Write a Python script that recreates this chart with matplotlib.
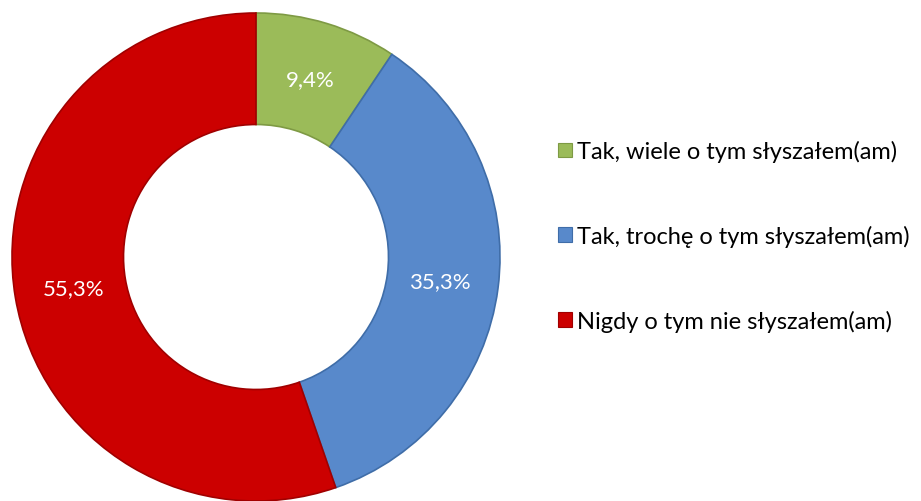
import matplotlib.pyplot as plt
from matplotlib.patches import Patch

labels = ['Tak, wiele o tym słyszałem(am)',
          'Tak, trochę o tym słyszałem(am)',
          'Nigdy o tym nie słyszałem(am)']
values = [9.4, 35.3, 55.3]
colors = ['#9BBB59', '#5889CB', '#CC0000']
edges = ['#7E9A44', '#3F6DA8', '#A00000']

plt.rcParams['font.family'] = ['Lato', 'DejaVu Sans']

fig = plt.figure(figsize=(9.21, 5.02), dpi=100)
W, H = 921, 502
ax = fig.add_axes([12 / W, 0 / H, 488 / W, 488 / H])

wedges, texts, autotexts = ax.pie(
    values, colors=colors, startangle=90, counterclock=False,
    radius=1.0, autopct=lambda p: f'{p:.1f}%'.replace('.', ','),
    pctdistance=0.76,
    wedgeprops=dict(width=0.457, linewidth=1.2),
    textprops=dict(color='white', fontsize=16))
for w, e in zip(wedges, edges):
    w.set_edgecolor(e)
ax.set_xlim(-1, 1)
ax.set_ylim(-1, 1)
ax.set_aspect('equal')
ax.axis('off')

handles = [Patch(facecolor=c, edgecolor=e, linewidth=0.8) for c, e in zip(colors, edges)]
fig.legend(handles, labels, loc='center left', bbox_to_anchor=(546 / W, 1 - 237 / H),
           frameon=False, fontsize=17, handlelength=0.58, handleheight=0.58,
           handletextpad=0.25, labelspacing=2.65, borderpad=0)

fig.savefig('out.png', dpi=100)
